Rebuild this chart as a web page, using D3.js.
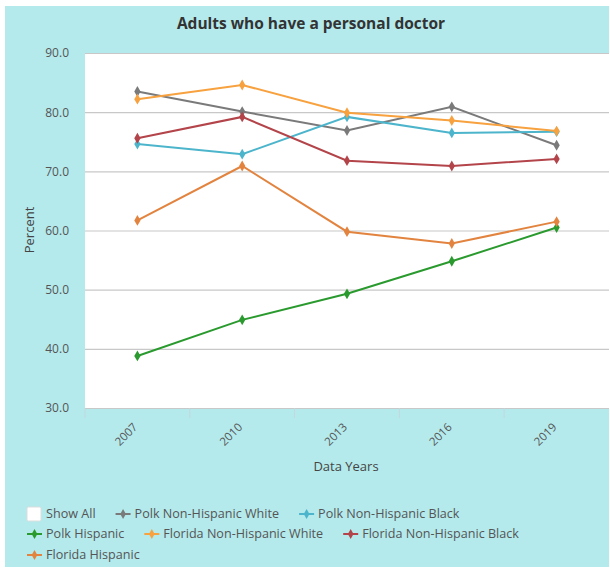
<!DOCTYPE html>
<html>
<head>
<meta charset="utf-8">
<script src="https://cdn.jsdelivr.net/npm/d3@7"></script>
<style>
  body { margin: 0; background: #fff; }
  text { font-family: "Open Sans", "Noto Sans", sans-serif; }
</style>
</head>
<body>
<div id="Canvas"></div>
<script>
// data
let years = ["2007", "2010", "2013", "2016", "2019"]
let seriesNames = ["Polk Non-Hispanic White", "Polk Non-Hispanic Black", "Polk Hispanic",
  "Florida Non-Hispanic White", "Florida Non-Hispanic Black", "Florida Hispanic"]
let seriesColors = ["#7a7a7a", "#4cb5cc", "#2a9a2e", "#f7a13f", "#b3444a", "#e2843f"]
let polkWhite = [83.5, 80.1, 76.9, 80.9, 74.4]
let polkBlack = [74.6, 72.9, 79.2, 76.5, 76.7]
let polkHispanic = [38.8, 44.9, 49.3, 54.8, 60.5]
let flWhite = [82.2, 84.6, 79.9, 78.6, 76.8]
let flBlack = [75.6, 79.2, 71.8, 70.9, 72.1]
let flHispanic = [61.7, 70.9, 59.8, 57.8, 61.5]
let yTicks = [30, 40, 50, 60, 70, 80, 90]
let allSeries = [polkWhite, polkBlack, polkHispanic, flWhite, flBlack, flHispanic]

let W = 610, H = 569
let svg = d3.select("#Canvas")
    .append("svg")
    .attr("width", W)
    .attr("height", H)

// cyan panel
svg.append("rect")
    .attr("x", 5).attr("y", 6)
    .attr("width", 604).attr("height", 561)
    .attr("fill", "#b4eaec")

let pLeft = 85, pRight = 609, pTop = 53, pBottom = 408

let xScale = d3.scaleBand()
    .domain(years)
    .range([pLeft, pRight])
let yScale = d3.scaleLinear()
    .domain([30, 90])
    .range([pBottom, pTop])

// plot background
svg.append("rect")
    .attr("x", pLeft).attr("y", pTop)
    .attr("width", pRight - pLeft).attr("height", pBottom - pTop)
    .attr("fill", "#fff")

// title
svg.append("text")
    .attr("x", 311).attr("y", 29)
    .attr("text-anchor", "middle")
    .attr("font-size", 15.5)
    .attr("font-weight", "bold")
    .attr("fill", "#333")
    .text("Adults who have a personal doctor")

// grid + y axis
let yAxis = d3.axisLeft(yScale)
    .tickValues(yTicks)
    .tickSize(-(pRight - pLeft))
    .tickFormat(d3.format(".1f"))
let gy = svg.append("g")
    .attr("transform", `translate(${pLeft},0)`)
    .call(yAxis)
gy.select(".domain").remove()
gy.selectAll(".tick line").attr("stroke", "#c8c8c8").attr("stroke-width", 1.2)
gy.selectAll(".tick text")
    .attr("x", -16)
    .attr("font-size", 12)
    .attr("fill", "#555")

// x axis
let xAxis = d3.axisBottom(xScale).tickSize(0).tickPadding(0)
let gx = svg.append("g")
    .attr("transform", `translate(0,${pBottom})`)
    .call(xAxis)
gx.select(".domain").remove()
gx.selectAll(".tick text")
    .attr("font-size", 11.5)
    .attr("fill", "#555")
    .attr("text-anchor", "end")
    .attr("transform", "translate(-2,17) rotate(-45)")
    .attr("dy", "0.35em")
// band boundary ticks
gx.selectAll(".bound")
    .data(years)
    .enter()
    .append("line")
    .attr("x1", d => xScale(d)).attr("x2", d => xScale(d))
    .attr("y1", 0).attr("y2", 10)
    .attr("stroke", "#c4d8dc")

// axis titles
svg.append("text")
    .attr("transform", "translate(34,230) rotate(-90)")
    .attr("text-anchor", "middle")
    .attr("font-size", 13)
    .attr("fill", "#444")
    .text("Percent")
svg.append("text")
    .attr("x", 346).attr("y", 471)
    .attr("text-anchor", "middle")
    .attr("font-size", 13)
    .attr("fill", "#444")
    .text("Data Years")

// lines
let xc = d => xScale(d) + xScale.bandwidth() / 2
let line = d3.line()
    .x((d, i) => xc(years[i]))
    .y(d => yScale(d))
let diamond = d3.symbol().type(d3.symbolDiamond).size(34)

allSeries.forEach((vals, s) => {
    svg.append("path")
        .datum(vals)
        .attr("d", line)
        .attr("fill", "none")
        .attr("stroke", seriesColors[s])
        .attr("stroke-width", 2)
    svg.selectAll(".pt" + s)
        .data(vals)
        .enter()
        .append("path")
        .attr("d", diamond)
        .attr("transform", (d, i) => `translate(${xc(years[i])},${yScale(d)})`)
        .attr("fill", seriesColors[s])
})

// legend
let legend = svg.append("g").attr("font-size", 12.6)
let rowY = [514, 534, 555]
let rows = [
    [{ name: "Show All", box: true }, { s: 0 }, { s: 1 }],
    [{ s: 2 }, { s: 3 }, { s: 4 }],
    [{ s: 5 }]
]
rows.forEach((row, r) => {
    let x = 27
    row.forEach(item => {
        let g = legend.append("g").attr("transform", `translate(${x},${rowY[r]})`)
        if (item.box) {
            g.append("rect")
                .attr("x", 0).attr("y", -7)
                .attr("width", 14).attr("height", 14)
                .attr("rx", 1.5)
                .attr("fill", "#fff")
                .attr("stroke", "#ddd")
        } else {
            g.append("line")
                .attr("x1", 0).attr("x2", 15)
                .attr("stroke", seriesColors[item.s])
                .attr("stroke-width", 2)
            g.append("path")
                .attr("d", d3.symbol().type(d3.symbolDiamond).size(28))
                .attr("transform", "translate(7.5,0)")
                .attr("fill", seriesColors[item.s])
        }
        let t = g.append("text")
            .attr("x", 19).attr("dy", "0.35em")
            .attr("fill", "#555")
            .text(item.box ? item.name : seriesNames[item.s])
        x += 19 + t.node().getComputedTextLength() + 20
    })
})
</script>
</body>
</html>
